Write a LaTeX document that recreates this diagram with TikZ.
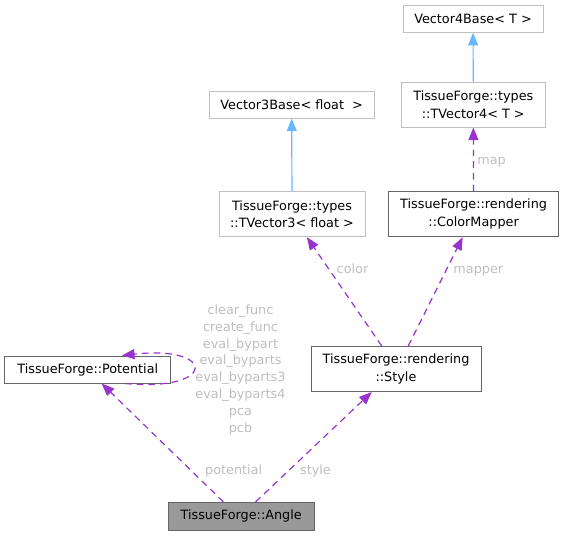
\documentclass[tikz,border=0pt]{standalone}
\usepackage{xcolor}
\usepackage{fontspec}
\setmainfont{DejaVu Sans}
\usetikzlibrary{arrows.meta,positioning}
\definecolor{edgeblue}{HTML}{63B8FF}
\definecolor{edgepurple}{HTML}{9A32CD}
\definecolor{lightframe}{HTML}{BFBFBF}
\definecolor{darkframe}{HTML}{666666}
\definecolor{labelgrey}{HTML}{BEBEBE}
\definecolor{mainfill}{HTML}{999999}
\tikzstyle{block} = [rectangle, draw=lightframe, fill=white, line width=0.75pt, align=center, inner sep=0pt, minimum height=20.25pt, font=\fontsize{9.6}{13.25}\selectfont]
\tikzstyle{docblock} = [block, draw=darkframe]
\tikzstyle{tall} = [minimum height=33.75pt]
\tikzstyle{inherit} = [draw=edgeblue, line width=0.9pt, -{Triangle[length=9.5pt,width=7.5pt]}]
\tikzstyle{usage} = [draw=edgepurple, line width=0.9pt, dash pattern=on 5pt off 3.75pt, -{Triangle[length=9.5pt,width=7.5pt]}]
\tikzstyle{lbl} = [text=labelgrey, align=center, inner sep=0pt, anchor=base, font=\fontsize{9.6}{12.6}\selectfont]

\begin{document}
\begin{tikzpicture}[x=0.75pt, y=-0.75pt]
\useasboundingbox (0,0) rectangle (563,536);
\node [block, minimum width=105pt] (vecfour) at (473,18.8) {Vector4Base< T >};
\node [block, tall, minimum width=108pt] (tvecfour) at (473.3,104.5) {TissueForge::types\\::TVector4< T >};
\node [block, minimum width=124pt] (vecthree) at (291.7,104.5) {Vector3Base< float~~>};
\node [block, tall, minimum width=109.5pt] (tvecthree) at (292,214.2) {TissueForge::types\\::TVector3< float >};
\node [docblock, tall, minimum width=127.5pt] (cmap) at (473.6,214.2) {TissueForge::rendering\\::ColorMapper};
\node [docblock, minimum width=124.25pt] (potential) at (87.8,369.5) {TissueForge::Potential};
\node [docblock, tall, minimum width=127.5pt] (style) at (396,369) {TissueForge::rendering\\::Style};
\node [docblock, fill=mainfill, minimum width=109.25pt, minimum height=20.75pt] (angle) at (241.2,516.2) {TissueForge::Angle};

\path [inherit] (tvecfour) -- (vecfour);
\path [inherit] (tvecthree) -- (vecthree);
\path [usage] (cmap) -- (tvecfour);
\path [usage] ([xshift=-10.7pt]style.north) -- ([xshift=11.2pt]tvecthree.south);
\path [usage] ([xshift=9.2pt]style.north) -- ([xshift=-8.2pt]cmap.south);
\path [usage] ([xshift=-13.4pt]angle.north) -- ([xshift=10.4pt]potential.south);
\path [usage] ([xshift=10.8pt]angle.north) -- ([xshift=-18.2pt]style.south);
\path [usage] ([xshift=27.9pt]potential.south) .. controls (217,392) and (217,345) .. ([xshift=25.6pt]potential.north);

\node [lbl] (maplbl) at (491.5,164) {map};
\node [lbl] (colorlbl) at (352.5,273) {color};
\node [lbl] (mapperlbl) at (478.3,273) {mapper};
\node [lbl] (potlbl) at (233.7,474) {potential};
\node [lbl] (stylelbl) at (315.5,474) {style};
\node [lbl] (looplbl) at (240.5,432) {clear\_func\\create\_func\\eval\_bypart\\eval\_byparts\\eval\_byparts3\\eval\_byparts4\\pca\\pcb};
\end{tikzpicture}
\end{document}
